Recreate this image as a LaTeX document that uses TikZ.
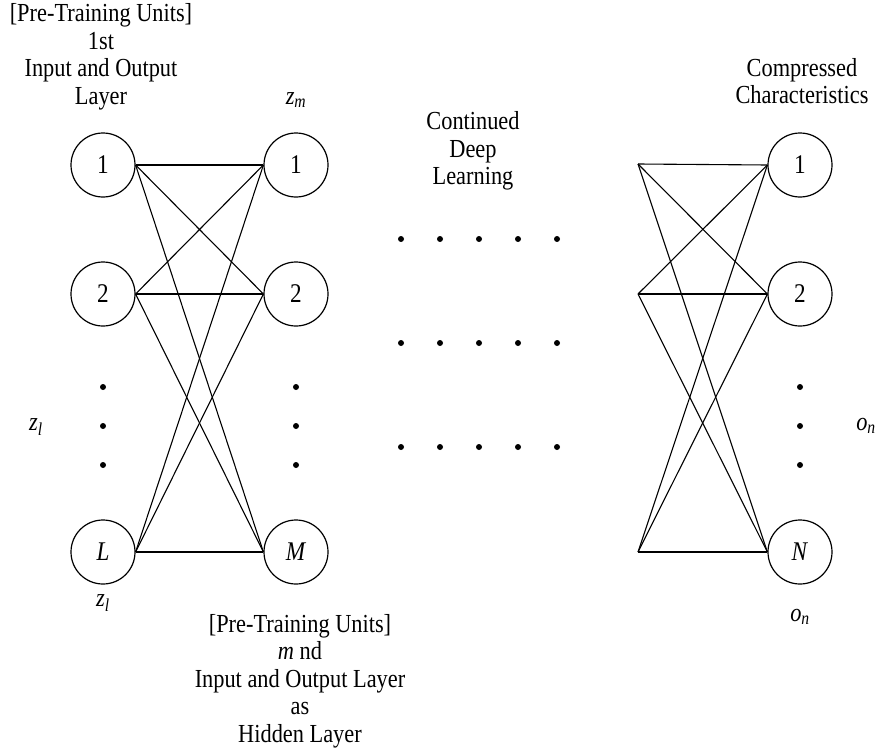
\documentclass[tikz,border=0pt]{standalone}
\usepackage{fontspec}
\setmainfont[FakeStretch=0.86]{Liberation Serif}
\newcommand{\varsub}[2]{\textit{#1}\textsubscript{\textit{#2}}}
\begin{document}
\begin{tikzpicture}[x=1pt,y=-1pt,
  txt/.style={font=\fontsize{26}{27.5}\selectfont, inner sep=0pt, align=center},
  unit/.style={circle, draw, line width=1.2pt, minimum size=64pt, inner sep=0pt,
               font=\fontsize{27}{27.5}\selectfont},
  link/.style={line width=1.1pt},
  dot/.style={circle, fill, inner sep=0pt, minimum size=6pt}]
\useasboundingbox (0,0) rectangle (878,752);

% first input/output layer
\node[unit] (l1) at (103,165) {1};
\node[unit] (l2) at (103,294) {2};
\node[unit] (lL) at (103,552) {\textit{L}};
% hidden layer
\node[unit] (m1) at (296,165) {1};
\node[unit] (m2) at (296,294) {2};
\node[unit] (mM) at (296,552) {\textit{M}};
% compressed output layer
\node[unit] (n1) at (800,165) {1};
\node[unit] (n2) at (800,294) {2};
\node[unit] (nN) at (800,552) {\textit{N}};

% full connections between the first two layers
\foreach \a in {1,2,L}
  \foreach \b in {1,2,M}
    \draw[link] (l\a.east) -- (m\b.west);

% open-ended connections into the last layer
\coordinate (s1) at (638,164);
\coordinate (s2) at (638,294);
\coordinate (s3) at (638,552);
\foreach \a in {1,2,3}
  \foreach \b in {1,2,N}
    \draw[link] (s\a) -- (n\b.west);

% vertical ellipses in each column
\foreach \c/\x in {l/103,m/296,n/800}
  \foreach \k/\y in {1/387,2/426,3/465}
    \node[dot] (v\c\k) at (\x,\y) {};

% dot grid for the continued layers
\foreach \r/\y in {1/239,2/343,3/447}
  \foreach \k/\x in {1/401,2/440,3/479,4/518,5/557}
    \node[dot] (g\r\k) at (\x,\y) {};

% labels
\node[txt] (topleft) at (101,57) {[Pre-Training Units]\\1st\\Input and Output\\Layer};
\node[txt] (zm) at (296,100) {\varsub{z}{m}};
\node[txt] (zlside) at (36,427) {\varsub{z}{l}};
\node[txt] (zlbottom) at (103,603) {\varsub{z}{l}};
\node[txt] (cont) at (473,151) {Continued\\Deep\\Learning};
\node[txt] (comp) at (802,81) {Compressed\\Characteristics};
\node[txt] (onside) at (866,426) {\varsub{o}{n}};
\node[txt] (onbottom) at (800,617) {\varsub{o}{n}};
\node[txt] (bottom) at (300,681) {[Pre-Training Units]\\\textit{m} nd\\Input and Output Layer\\as\\Hidden Layer};
\end{tikzpicture}
\end{document}
